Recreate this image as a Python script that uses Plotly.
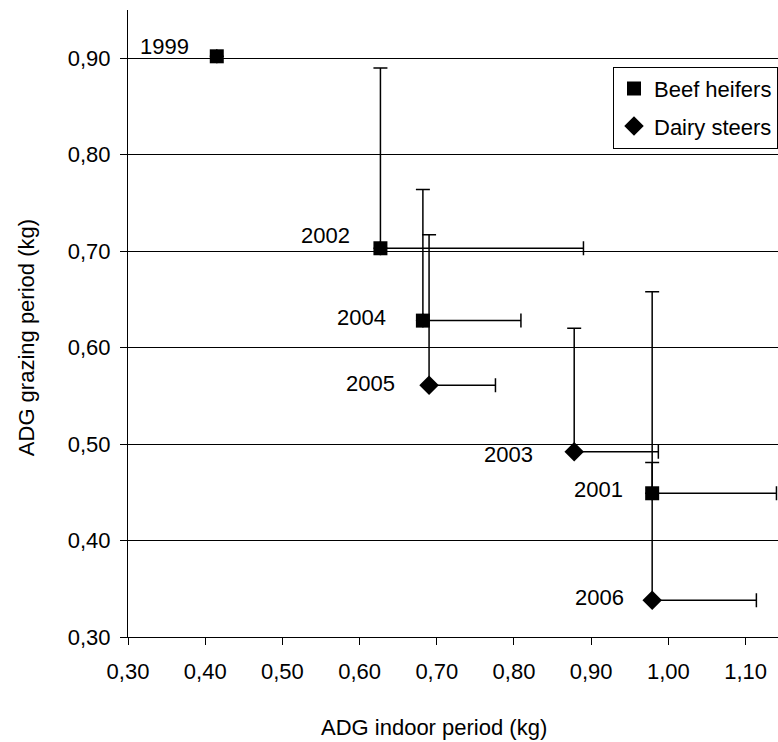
import plotly.graph_objects as go

# ---- data ----
beef_years = ["1999", "2002", "2004", "2001"]
beef_x = [0.415, 0.627, 0.682, 0.979]
beef_y = [0.902, 0.703, 0.628, 0.449]
beef_ex = [None, 0.263, 0.127, 0.161]
beef_ey = [None, 0.187, 0.136, 0.209]

dairy_years = ["2005", "2003", "2006"]
dairy_x = [0.690, 0.878, 0.979]
dairy_y = [0.561, 0.492, 0.338]
dairy_ex = [0.086, 0.109, 0.135]
dairy_ey = [0.156, 0.128, 0.143]

x_ticks = [0.30, 0.40, 0.50, 0.60, 0.70, 0.80, 0.90, 1.00, 1.10]
y_ticks = [0.30, 0.40, 0.50, 0.60, 0.70, 0.80, 0.90]

# ---- label styling (pixel offsets of the year labels) ----
label_shift = {
    "1999": (-26, 10), "2002": (-28, 13), "2004": (-35, 3), "2001": (-27, 4),
    "2005": (-32, 2), "2003": (-39, -3), "2006": (-26, 3),
}

FONT = "Liberation Sans, Arial, sans-serif"
FS = 22

fig = go.Figure()

def err(vals):
    return dict(type="data", symmetric=False, array=vals, arrayminus=[0] * len(vals),
                color="black", thickness=1.5, width=7)

fig.add_trace(go.Scatter(
    x=beef_x, y=beef_y, mode="markers", name="Beef heifers", legendgroup="a",
    marker=dict(symbol="square", size=14, color="black"),
    error_x=err(beef_ex), error_y=err(beef_ey),
))
fig.add_trace(go.Scatter(
    x=dairy_x, y=dairy_y, mode="markers", name="Dairy steers", legendgroup="b",
    marker=dict(symbol="diamond", size=15, color="black"),
    error_x=err(dairy_ex), error_y=err(dairy_ey),
))

for yrs, xs, ys in [(beef_years, beef_x, beef_y), (dairy_years, dairy_x, dairy_y)]:
    for yr, xv, yv in zip(yrs, xs, ys):
        dx, dy = label_shift[yr]
        fig.add_annotation(x=xv, y=yv, xref="x", yref="y", text=yr, showarrow=False,
                           xanchor="right", yanchor="middle", xshift=dx, yshift=dy,
                           font=dict(family=FONT, size=FS, color="black"))

# axis titles
fig.add_annotation(text="ADG indoor period (kg)", xref="paper", yref="paper",
                   x=0.4708, y=-0.145, xanchor="center", yanchor="middle", showarrow=False,
                   font=dict(family=FONT, size=FS, color="black"))
fig.add_annotation(text="ADG grazing period (kg)", xref="paper", yref="paper",
                   x=-0.155, y=0.477, xanchor="center", yanchor="middle", showarrow=False,
                   textangle=-90, font=dict(family=FONT, size=FS, color="black"))

fig.update_layout(
    width=778, height=742,
    margin=dict(l=128, r=0, t=10, b=105),
    paper_bgcolor="white", plot_bgcolor="white",
    separators=", ",
    font=dict(family=FONT, size=FS, color="black"),
    showlegend=True,
    legend=dict(x=1, xanchor="right", y=0.9096, yanchor="top",
                bordercolor="black", borderwidth=1, bgcolor="white",
                tracegroupgap=6, font=dict(family=FONT, size=FS, color="black")),
    xaxis=dict(range=[0.30, 1.142], tickvals=x_ticks, tickformat=".2f",
               showgrid=False, zeroline=False, showline=True, linecolor="black", linewidth=1,
               ticks="outside", ticklen=7, tickcolor="black", tickwidth=1,
               ticklabelstandoff=8),
    yaxis=dict(range=[0.30, 0.95], tickvals=y_ticks, tickformat=".2f",
               showgrid=True, gridcolor="black", gridwidth=1, zeroline=False,
               showline=True, linecolor="black", linewidth=1,
               ticks="outside", ticklen=7, tickcolor="black", tickwidth=1,
               ticklabelstandoff=5),
)

fig.write_html(
    "out.html",
    config={"displayModeBar": False},
    post_script="document.body.style.margin='0';document.body.style.overflow='hidden';",
)
